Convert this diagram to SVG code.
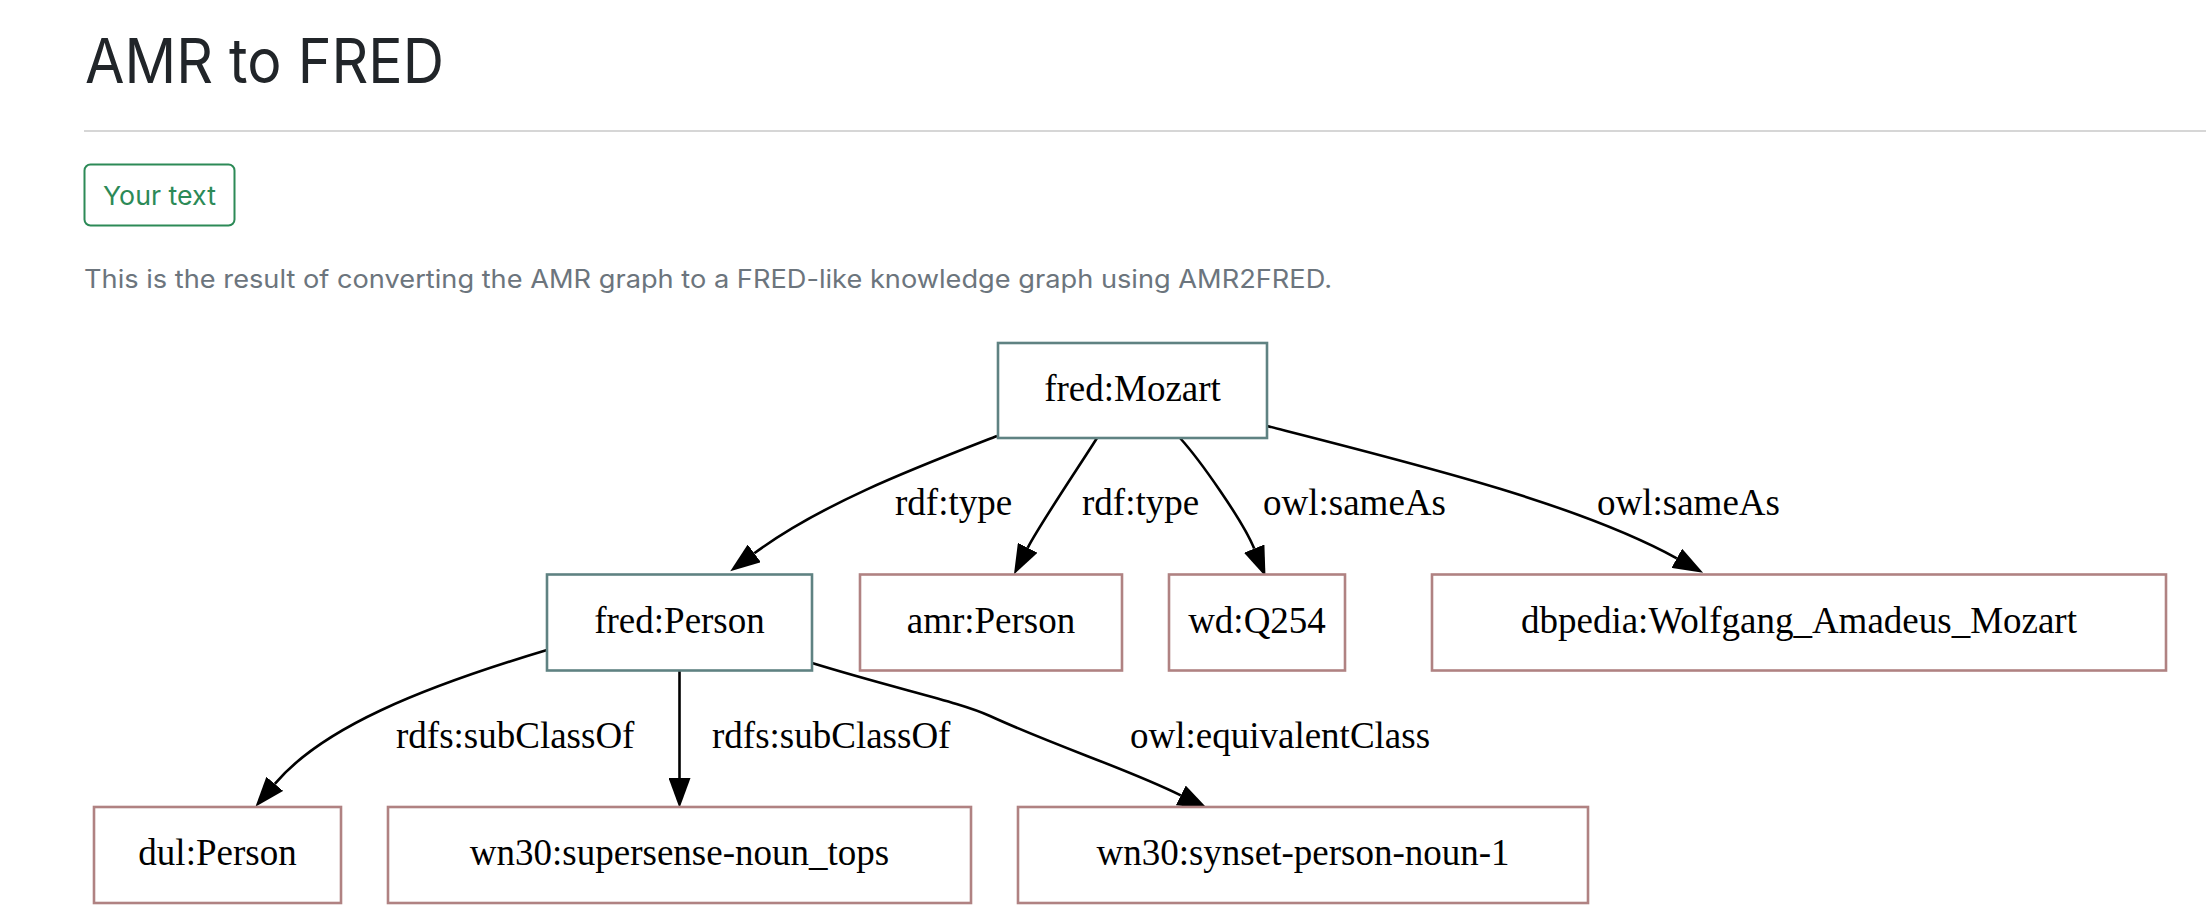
<svg xmlns="http://www.w3.org/2000/svg" width="2206" height="924" viewBox="0 0 2206 924">
<style>
.page{font-family:Inter,"Liberation Sans",sans-serif}
.node rect{fill:#ffffff;stroke-width:2.6}
.main rect{stroke:#5f8282}
.lit rect{stroke:#b08282}
.nt{font-family:"Liberation Serif","Times New Roman",serif;font-size:37px;fill:#000;text-anchor:middle}
.el{font-family:"Liberation Serif","Times New Roman",serif;font-size:37px;fill:#000}
.edge{fill:none;stroke:#000;stroke-width:2.6;marker-end:url(#ah)}
</style>
<defs>
<marker id="ah" markerUnits="userSpaceOnUse" viewBox="0 0 30 22" markerWidth="30" markerHeight="22" refX="0" refY="11" orient="auto">
<path d="M0,0 L30,11 L0,22 z" fill="#000"/>
</marker>
</defs>
<rect x="0" y="0" width="2206" height="924" fill="#ffffff"/>
<g id="header" class="page">
<text x="85" y="83" font-size="62" fill="#212529" textLength="359" lengthAdjust="spacingAndGlyphs">AMR to FRED</text>
<line x1="84" y1="131" x2="2206" y2="131" stroke="#d6d6d6" stroke-width="2"/>
<rect x="84.5" y="164.5" width="150" height="61" rx="6" fill="none" stroke="#2c8a57" stroke-width="2"/>
<text x="103" y="205" font-size="26" fill="#2c8a57" textLength="113" lengthAdjust="spacingAndGlyphs">Your text</text>
<text x="84" y="288" font-size="25" fill="#6c757d" textLength="1248" lengthAdjust="spacingAndGlyphs">This is the result of converting the AMR graph to a FRED-like knowledge graph using AMR2FRED.</text>
</g>
<g id="connectors">
<path class="edge" d="M997,436 C920,466 822,503 754.3,553.3"/>
<path class="edge" d="M1097,438 C1082,462 1040,524 1027.7,547.8"/>
<path class="edge" d="M1180,438 C1200,460 1243,521 1254.2,548.6"/>
<path class="edge" d="M1267,426 C1420,465 1578,504 1676.8,558.3"/>
<path class="edge" d="M547,650 C420,688 322,728 274.8,783.9"/>
<path class="edge" d="M679.5,671 L679.5,778"/>
<path class="edge" d="M812,663 C900,690 960,702 990,716 C1060,748 1128,769 1180.8,795.4"/>
<text class="el" x="895" y="515">rdf:type</text>
<text class="el" x="1082" y="515">rdf:type</text>
<text class="el" x="1263" y="515">owl:sameAs</text>
<text class="el" x="1597" y="515">owl:sameAs</text>
<text class="el" x="396" y="748">rdfs:subClassOf</text>
<text class="el" x="712" y="748">rdfs:subClassOf</text>
<text class="el" x="1130" y="748">owl:equivalentClass</text>
</g>
<g id="fred_Mozart" class="node main"><rect x="998" y="343" width="269" height="95"/><text class="nt" x="1132.5" y="400.5">fred:Mozart</text></g>
<g id="fred_Person" class="node main"><rect x="547" y="574.5" width="265" height="96"/><text class="nt" x="679.5" y="632.5">fred:Person</text></g>
<g id="amr_Person" class="node lit"><rect x="860" y="574.5" width="262" height="96"/><text class="nt" x="991" y="632.5">amr:Person</text></g>
<g id="wd_Q254" class="node lit"><rect x="1169" y="574.5" width="176" height="96"/><text class="nt" x="1257" y="632.5">wd:Q254</text></g>
<g id="dbpedia_Mozart" class="node lit"><rect x="1432" y="574.5" width="734" height="96"/><text class="nt" x="1799" y="632.5">dbpedia:Wolfgang_Amadeus_Mozart</text></g>
<g id="dul_Person" class="node lit"><rect x="94" y="807" width="247" height="96"/><text class="nt" x="217.5" y="865">dul:Person</text></g>
<g id="wn30_supersense" class="node lit"><rect x="388" y="807" width="583" height="96"/><text class="nt" x="679.5" y="865">wn30:supersense-noun_tops</text></g>
<g id="wn30_synset" class="node lit"><rect x="1018" y="807" width="570" height="96"/><text class="nt" x="1303" y="865">wn30:synset-person-noun-1</text></g>
</svg>
